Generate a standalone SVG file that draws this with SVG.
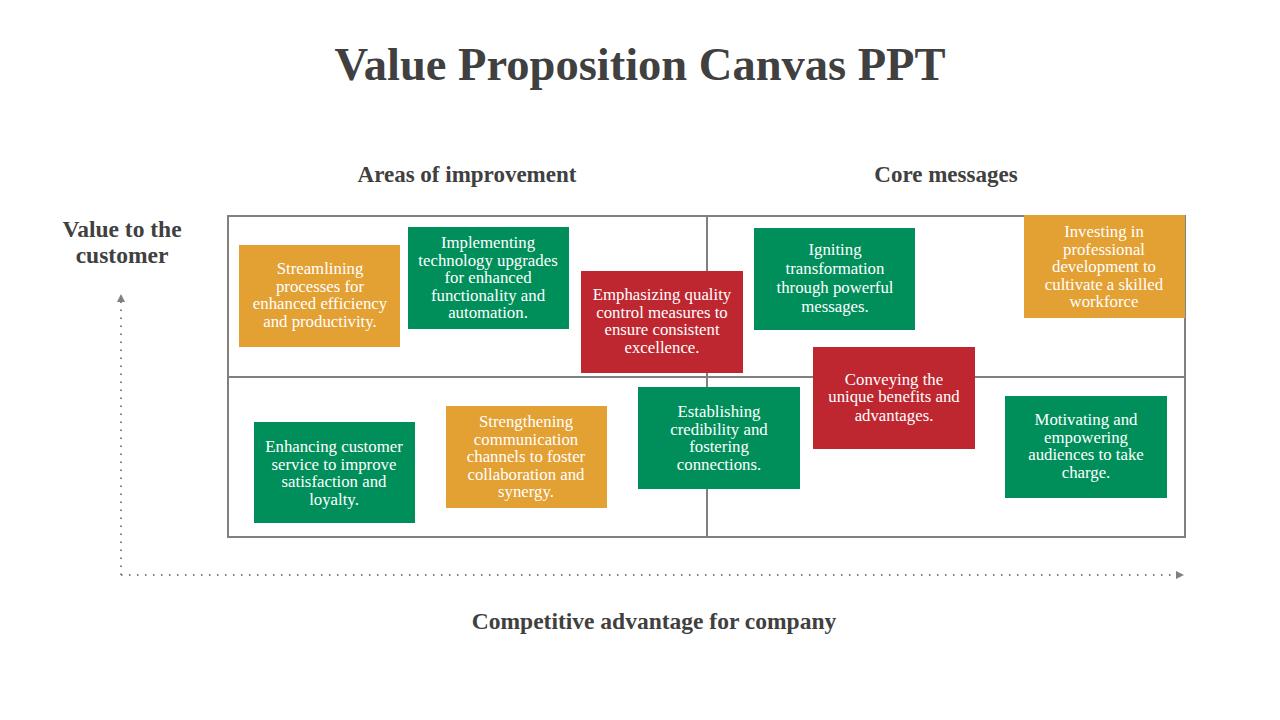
<svg xmlns="http://www.w3.org/2000/svg" width="1280" height="720" viewBox="0 0 1280 720">
<defs>
<style>
.t{font-family:"Liberation Serif","DejaVu Serif",serif;fill:#404040;font-weight:bold;text-anchor:middle}
.b{font-family:"Liberation Serif","DejaVu Serif",serif;fill:#fff;font-size:16.8px;text-anchor:middle}
.o{fill:#E3A033}.g{fill:#008F5A}.r{fill:#BE2630}
.grid{fill:none;stroke:#808080;stroke-width:2}
.ax{stroke:#808080;stroke-width:2;stroke-dasharray:1.5 6.5;fill:none}
</style>
<marker id="ah" viewBox="0 0 10 10" refX="5" refY="5" markerWidth="8" markerHeight="8" orient="auto" markerUnits="userSpaceOnUse">
<path d="M0,0 L10,5 L0,10 z" fill="#808080"/>
</marker>
</defs>
<rect width="1280" height="720" fill="#fff"/>
<text class="t" x="640" y="80" font-size="46.5">Value Proposition Canvas PPT</text>
<text class="t" x="467" y="182" font-size="23">Areas of improvement</text>
<text class="t" x="946" y="182" font-size="23">Core messages</text>
<text class="t" x="122" y="237" font-size="23.5">Value to the</text>
<text class="t" x="122" y="263" font-size="23.5">customer</text>
<text class="t" x="654" y="629" font-size="23.5">Competitive advantage for company</text>
<g id="grid">
<rect class="grid" x="228" y="216" width="957" height="321"/>
<line class="grid" x1="707" y1="216" x2="707" y2="537"/>
<line class="grid" x1="228" y1="377" x2="1185" y2="377"/>
</g>
<g id="connectors">
<line class="ax" x1="121" y1="575" x2="121" y2="298" marker-end="url(#ah)"/>
<line class="ax" x1="121" y1="575" x2="1180" y2="575" marker-end="url(#ah)"/>
</g>
<g id="n1"><rect class="o" x="239" y="245" width="161" height="102"/>
<text class="b" x="320" y="274">Streamlining</text><text class="b" x="320" y="291.5">processes for</text><text class="b" x="320" y="309">enhanced efficiency</text><text class="b" x="320" y="326.5">and productivity.</text></g>
<g id="n2"><rect class="g" x="408" y="227" width="161" height="102"/>
<text class="b" x="488" y="248">Implementing</text><text class="b" x="488" y="265.5">technology upgrades</text><text class="b" x="488" y="283">for enhanced</text><text class="b" x="488" y="300.5">functionality and</text><text class="b" x="488" y="318">automation.</text></g>
<g id="n3"><rect class="r" x="581" y="271" width="162" height="102"/>
<text class="b" x="662" y="300">Emphasizing quality</text><text class="b" x="662" y="317.5">control measures to</text><text class="b" x="662" y="335">ensure consistent</text><text class="b" x="662" y="353">excellence.</text></g>
<g id="n4"><rect class="g" x="754" y="228" width="161" height="102"/>
<text class="b" x="835" y="255">Igniting</text><text class="b" x="835" y="273.5">transformation</text><text class="b" x="835" y="292.5">through powerful</text><text class="b" x="835" y="312">messages.</text></g>
<g id="n5"><rect class="o" x="1024" y="215" width="161" height="103"/>
<text class="b" x="1104" y="237">Investing in</text><text class="b" x="1104" y="254.5">professional</text><text class="b" x="1104" y="272">development to</text><text class="b" x="1104" y="289.5">cultivate a skilled</text><text class="b" x="1104" y="307">workforce</text></g>
<g id="n6"><rect class="g" x="254" y="422" width="161" height="101"/>
<text class="b" x="334" y="452">Enhancing customer</text><text class="b" x="334" y="469.5">service to improve</text><text class="b" x="334" y="487">satisfaction and</text><text class="b" x="334" y="504.5">loyalty.</text></g>
<g id="n7"><rect class="o" x="446" y="406" width="161" height="102"/>
<text class="b" x="526" y="427">Strengthening</text><text class="b" x="526" y="444.5">communication</text><text class="b" x="526" y="462">channels to foster</text><text class="b" x="526" y="479.5">collaboration and</text><text class="b" x="526" y="497">synergy.</text></g>
<g id="n8"><rect class="g" x="638" y="387" width="162" height="102"/>
<text class="b" x="719" y="417">Establishing</text><text class="b" x="719" y="434.5">credibility and</text><text class="b" x="719" y="452">fostering</text><text class="b" x="719" y="469.5">connections.</text></g>
<g id="n9"><rect class="r" x="813" y="347" width="162" height="102"/>
<text class="b" x="894" y="385">Conveying the</text><text class="b" x="894" y="402">unique benefits and</text><text class="b" x="894" y="421">advantages.</text></g>
<g id="n10"><rect class="g" x="1005" y="396" width="162" height="102"/>
<text class="b" x="1086" y="425">Motivating and</text><text class="b" x="1086" y="442.5">empowering</text><text class="b" x="1086" y="460">audiences to take</text><text class="b" x="1086" y="478">charge.</text></g>
</svg>
